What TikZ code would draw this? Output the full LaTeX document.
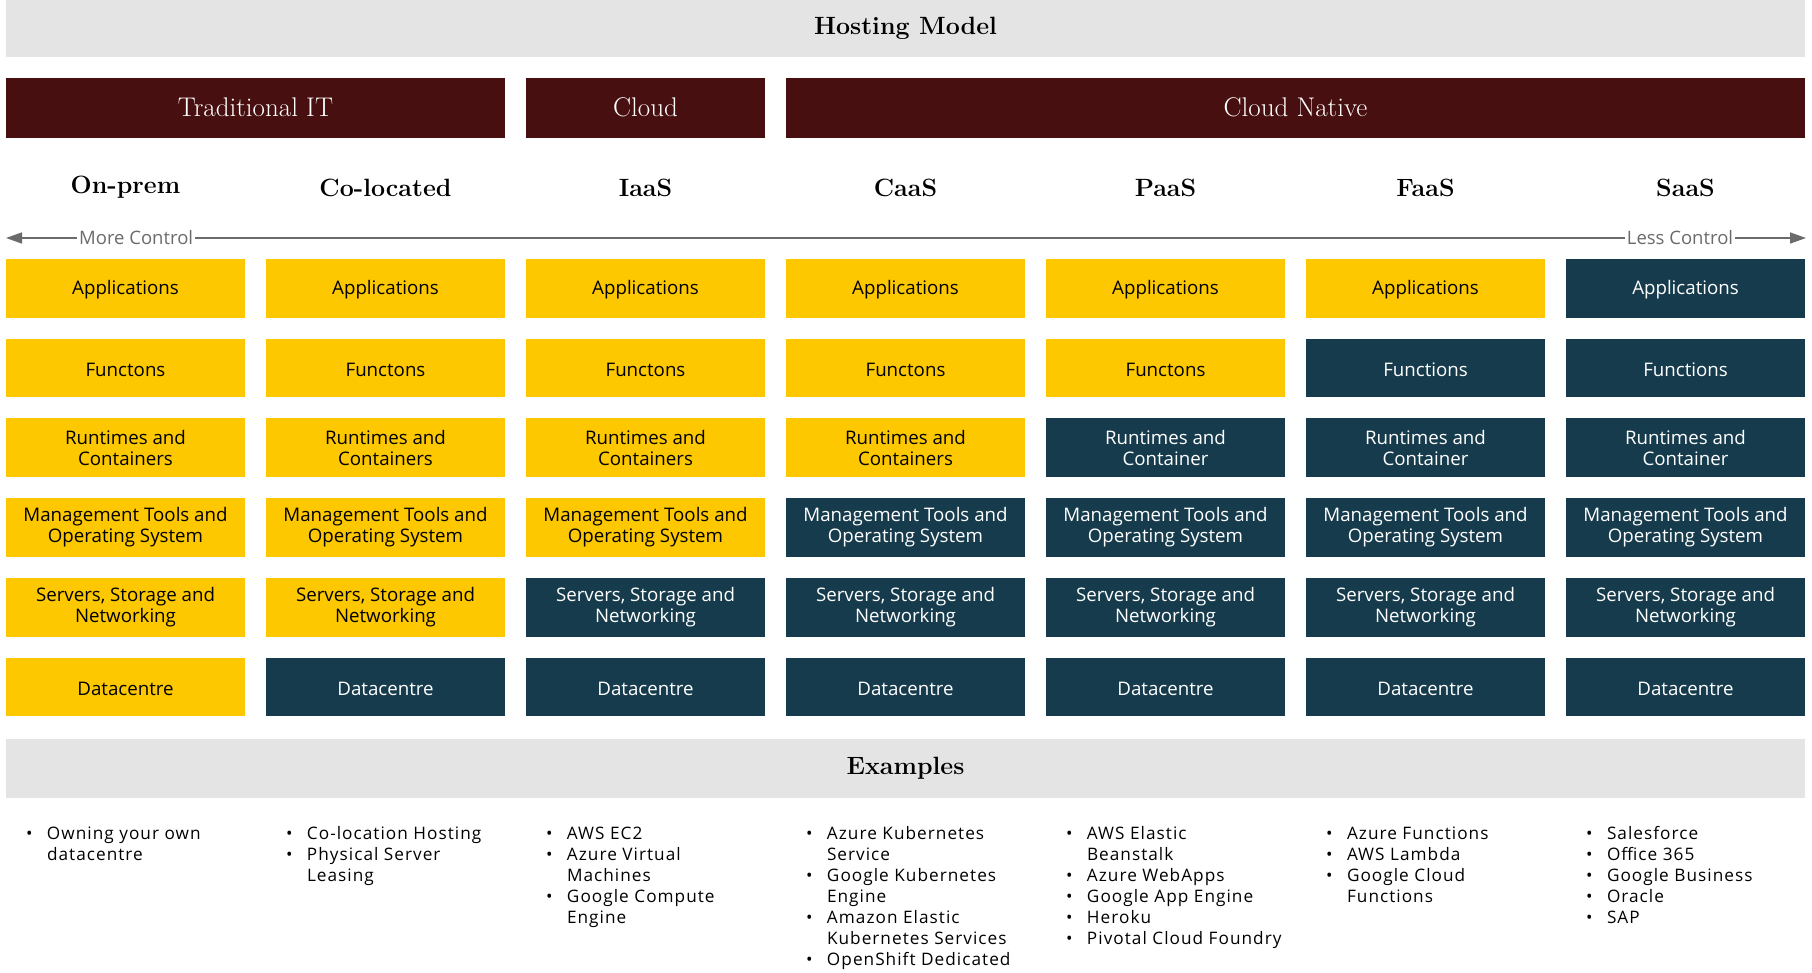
\documentclass[tikz,border=0pt]{standalone}
\usepackage{fontspec}
\newfontfamily\bodyfont{Open Sans}
\newfontfamily\listfont[LetterSpace=6]{Open Sans}
\usetikzlibrary{arrows.meta}
\definecolor{bandgrey}{HTML}{E4E4E4}
\definecolor{wine}{HTML}{470F0F}
\definecolor{gold}{HTML}{FDC800}
\definecolor{slate}{HTML}{163B4C}
\definecolor{axisgrey}{HTML}{6B6B6B}

% text of layer #1 (0 = top); #2 = 1 for the self-managed (gold) variant
\newcommand\onestrut{\rule{0pt}{17pt}}
\newcommand\layertext[2]{%
  \ifcase#1 \onestrut Applications\or
    \onestrut\ifnum#2=1 Functons\else Functions\fi\or
    Runtimes and\\ \ifnum#2=1 Containers\else Container\fi\or
    Management Tools and\\ Operating System\or
    Servers, Storage and\\ Networking\or
    \onestrut Datacentre\fi}
\newcommand\exitem[1]{\makebox[21pt][l]{•}#1}
\newcommand\excont[1]{\hspace*{21pt}#1}

\begin{document}
\begin{tikzpicture}[x=1pt,y=-1pt,
  every node/.style={inner sep=0pt, outer sep=0pt},
  band/.style={fill=bandgrey, minimum width=1799pt, anchor=north west,
    font=\fontsize{25}{30}\selectfont\bfseries},
  grouphead/.style={fill=wine, text=white, minimum height=60pt, anchor=north west,
    font=\fontsize{27}{30}\selectfont},
  colhead/.style={font=\fontsize{25}{30}\selectfont\bfseries},
  layer/.style={minimum width=239pt, minimum height=58.7pt, anchor=north west,
    align=center, font=\bodyfont\fontsize{18.7}{21}\selectfont},
  mine/.style={layer, fill=gold, text=black},
  theirs/.style={layer, fill=slate, text=white},
  axislabel/.style={fill=white, inner xsep=2pt, text=axisgrey,
    font=\bodyfont\fontsize{18.5}{20}\selectfont},
  exlist/.style={anchor=base west, font=\listfont\fontsize{17.2}{21.15}\selectfont},
]
\useasboundingbox (0,0) rectangle (1812,972);

% title band
\node[band, minimum height=56.6pt] (title) at (6,0) {Hosting Model};

% group headers
\node[grouphead, minimum width=499pt] (trad) at (6,77.5) {Traditional IT};
\node[grouphead, minimum width=239pt] (cloud) at (526,77.5) {Cloud};
\node[grouphead, minimum width=1019pt] (native) at (786,77.5) {Cloud Native};

% column headers
\foreach \name [count=\i from 0] in {On-prem,Co-located,IaaS,CaaS,PaaS,FaaS,SaaS}
  \node[colhead] (head-\i) at (125.5+260*\i,187.5) {\name};

% control axis
\coordinate (axisL) at (6,238);
\coordinate (axisR) at (1806,238);
\draw[axisgrey, line width=1.6pt,
  {Triangle[length=16pt,width=11pt]}-{Triangle[length=16pt,width=11pt]}]
  (axisL) -- (axisR)
  node[axislabel, pos=0.0723] (more) {More Control}
  node[axislabel, pos=0.930] (less) {Less Control};

% responsibility stack
\foreach \c in {0,...,6}{
  \foreach \r in {0,...,5}{
    \pgfmathtruncatemacro\own{\r<6-\c ? 1 : 0}
    \ifnum\own=1
      \node[mine] (L-\c-\r) at (6+260*\c,259+79.7*\r) {\layertext{\r}{1}};
    \else
      \node[theirs] (L-\c-\r) at (6+260*\c,259+79.7*\r) {\layertext{\r}{0}};
    \fi
  }
}

% examples band
\node[band, minimum height=59pt] (examples) at (6,738.5) {Examples};

% example lists
\node[exlist] (ex-0) at (26,839) {\begin{tabular}[t]{@{}l@{}}
  \exitem{Owning your own}\\ \excont{datacentre}\end{tabular}};
\node[exlist] (ex-1) at (286,839) {\begin{tabular}[t]{@{}l@{}}
  \exitem{Co-location Hosting}\\ \exitem{Physical Server}\\ \excont{Leasing}\end{tabular}};
\node[exlist] (ex-2) at (546,839) {\begin{tabular}[t]{@{}l@{}}
  \exitem{AWS EC2}\\ \exitem{Azure Virtual}\\ \excont{Machines}\\
  \exitem{Google Compute}\\ \excont{Engine}\end{tabular}};
\node[exlist] (ex-3) at (806,839) {\begin{tabular}[t]{@{}l@{}}
  \exitem{Azure Kubernetes}\\ \excont{Service}\\ \exitem{Google Kubernetes}\\
  \excont{Engine}\\ \exitem{Amazon Elastic}\\ \excont{Kubernetes Services}\\
  \exitem{OpenShift Dedicated}\end{tabular}};
\node[exlist] (ex-4) at (1066,839) {\begin{tabular}[t]{@{}l@{}}
  \exitem{AWS Elastic}\\ \excont{Beanstalk}\\ \exitem{Azure WebApps}\\
  \exitem{Google App Engine}\\ \exitem{Heroku}\\ \exitem{Pivotal Cloud Foundry}\end{tabular}};
\node[exlist] (ex-5) at (1326,839) {\begin{tabular}[t]{@{}l@{}}
  \exitem{Azure Functions}\\ \exitem{AWS Lambda}\\ \exitem{Google Cloud}\\
  \excont{Functions}\end{tabular}};
\node[exlist] (ex-6) at (1586,839) {\begin{tabular}[t]{@{}l@{}}
  \exitem{Salesforce}\\ \exitem{Office 365}\\ \exitem{Google Business}\\
  \exitem{Oracle}\\ \exitem{SAP}\end{tabular}};
\end{tikzpicture}
\end{document}
